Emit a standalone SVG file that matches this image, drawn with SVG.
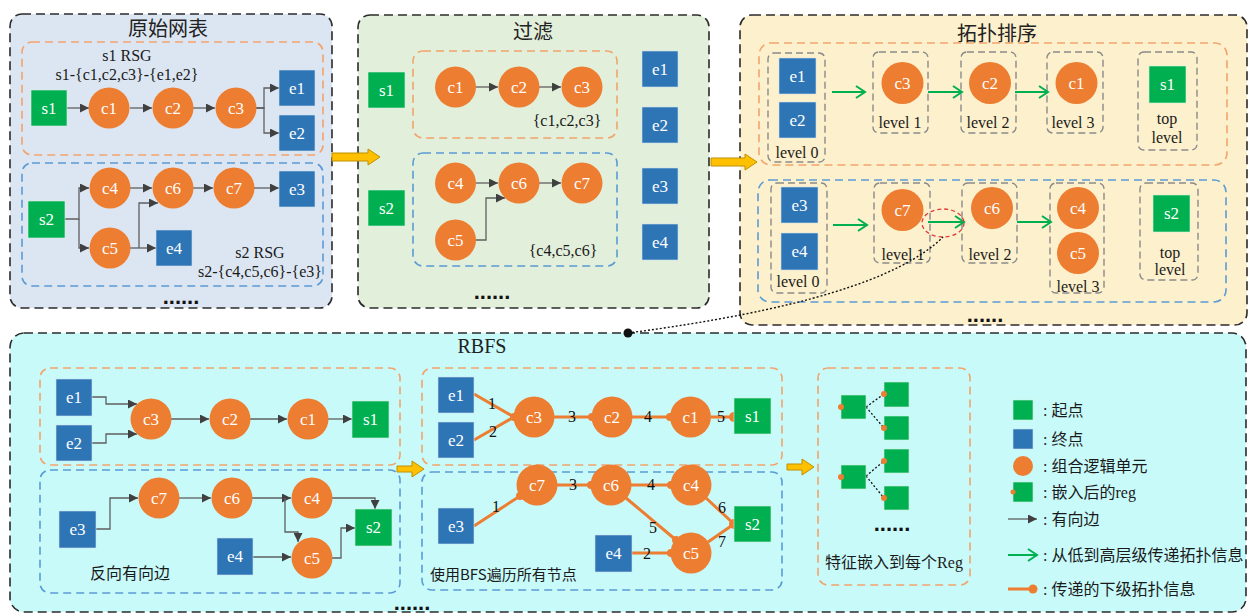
<svg xmlns="http://www.w3.org/2000/svg" width="1248" height="613" viewBox="0 0 1248 613">
  <defs>
    <style>
      .panel{stroke:#2b2b2b;stroke-width:1.6;stroke-dasharray:9 5}
      .grpO{fill:none;stroke:#f2a46c;stroke-width:1.6;stroke-dasharray:8 5}
      .grpB{fill:none;stroke:#5b9bd5;stroke-width:1.6;stroke-dasharray:8 5}
      .lvl{fill:none;stroke:#8a8a8a;stroke-width:1.4;stroke-dasharray:7 4}
      .s{fill:#00b050;stroke:#d8f0dc;stroke-width:0.6}
      .e{fill:#2e75b6;stroke:#d0e0f0;stroke-width:0.6}
      .c{fill:#ed7d31}
      .nl{font-family:"Liberation Serif",serif;font-size:17px;fill:#fff;text-anchor:middle;dominant-baseline:central}
      .t{font-family:"Liberation Serif",serif;font-size:16px;fill:#1a1a1a;text-anchor:middle;dominant-baseline:central}
      .title{font-family:"Noto Sans CJK SC",sans-serif;font-size:20px;fill:#222;text-anchor:middle;dominant-baseline:central}
      .cn{font-family:"Liberation Serif","Noto Sans CJK SC",serif;font-size:16px;fill:#1a1a1a;dominant-baseline:central}
      .dots{font-family:"Liberation Sans",sans-serif;font-weight:bold;font-size:22px;fill:#111;text-anchor:middle}
      .edge{fill:none;stroke:#5f5f5f;stroke-width:1.3;marker-end:url(#arr)}
      .up{fill:none;stroke:#00b050;stroke-width:2;marker-end:url(#garr)}
      .prop{fill:none;stroke:#ed7d31;stroke-width:3}
      .pdot{fill:#ed7d31}
      .bigarr{fill:#ffc000;stroke:#c09000;stroke-width:1}
      .num{font-family:"Liberation Serif",serif;font-size:16px;fill:#111;text-anchor:middle;dominant-baseline:central}
    </style>
    <marker id="arr" markerUnits="userSpaceOnUse" markerWidth="9" markerHeight="9" refX="9" refY="4.5" orient="auto">
      <path d="M0,0 L9,4.5 L0,9 Z" fill="#404040"/>
    </marker>
    <marker id="garr" markerUnits="userSpaceOnUse" markerWidth="12" markerHeight="14" refX="10" refY="7" orient="auto">
      <path d="M1,1 L10,7 L1,13" fill="none" stroke="#00b050" stroke-width="2"/>
    </marker>
  </defs>

  <!-- panels -->
  <g id="panels">
    <rect x="10" y="14" width="322" height="294" rx="12" fill="#dce6f2" class="panel"/>
    <rect x="358" y="15" width="351" height="293" rx="12" fill="#e2efda" class="panel"/>
    <rect x="740" y="15" width="507" height="310" rx="12" fill="#fdf0cc" class="panel"/>
    <rect x="10" y="333" width="1236" height="279" rx="14" fill="#c8fafa" class="panel"/>
    <text class="title" x="168" y="27">原始网表</text>
    <text class="title" x="533" y="30">过滤</text>
    <text class="title" x="997" y="32">拓扑排序</text>
    <text x="482" y="346" style="font-family:'Liberation Serif',serif;font-size:20px;fill:#222;text-anchor:middle;dominant-baseline:central">RBFS</text>
  </g>

  <!-- groups (RSG boxes, level boxes) -->
  <g id="groups">
    <rect class="grpO" x="22" y="42" width="301" height="113" rx="10"/>
    <rect class="grpB" x="22" y="163" width="301" height="123" rx="10"/>
    <rect class="grpO" x="413" y="51" width="204" height="87" rx="10"/>
    <rect class="grpB" x="413" y="153" width="204" height="113" rx="10"/>
    <rect class="grpO" x="759" y="43" width="468" height="122" rx="12"/>
    <rect class="grpB" x="758" y="180" width="468" height="122" rx="12"/>
    <rect class="lvl" x="768" y="53" width="57" height="109" rx="6"/>
    <rect class="lvl" x="873" y="52" width="55" height="81" rx="6"/>
    <rect class="lvl" x="961" y="52" width="55" height="81" rx="6"/>
    <rect class="lvl" x="1047" y="52" width="56" height="81" rx="6"/>
    <rect class="lvl" x="1138" y="52" width="59" height="98" rx="6"/>
    <rect class="lvl" x="771" y="183" width="56" height="110" rx="6"/>
    <rect class="lvl" x="874" y="183" width="56" height="80" rx="6"/>
    <rect class="lvl" x="962" y="183" width="55" height="80" rx="6"/>
    <rect class="lvl" x="1050" y="183" width="54" height="110" rx="6"/>
    <rect class="lvl" x="1140" y="183" width="58" height="97" rx="6"/>
    <rect class="grpO" x="40" y="368" width="360" height="97" rx="10"/>
    <rect class="grpB" x="40" y="470" width="360" height="123" rx="10"/>
    <rect class="grpO" x="422" y="368" width="360" height="97" rx="10"/>
    <rect class="grpB" x="422" y="472" width="360" height="118" rx="10"/>
    <rect class="grpO" x="818" y="368" width="152" height="217" rx="10"/>
  </g>

  <!-- annotations -->
  <g id="labels">
    <text class="t" x="127" y="55">s1 RSG</text>
    <text class="t" x="127" y="74">s1-{c1,c2,c3}-{e1,e2}</text>
    <text class="t" x="260" y="252">s2 RSG</text>
    <text class="t" x="260" y="271">s2-{c4,c5,c6}-{e3}</text>
    <text class="t" x="567" y="120">{c1,c2,c3}</text>
    <text class="t" x="563" y="250">{c4,c5,c6}</text>
    <text class="t" x="797" y="152">level 0</text>
    <text class="t" x="900" y="122">level 1</text>
    <text class="t" x="988" y="122">level 2</text>
    <text class="t" x="1073" y="122">level 3</text>
    <text class="t" x="1167" y="118">top</text>
    <text class="t" x="1167" y="137">level</text>
    <text class="t" x="798" y="281">level 0</text>
    <text class="t" x="903" y="254">level 1</text>
    <text class="t" x="990" y="254">level 2</text>
    <text class="t" x="1078" y="286">level 3</text>
    <text class="t" x="1170" y="252">top</text>
    <text class="t" x="1170" y="269">level</text>
    <text class="cn" x="130" y="573" text-anchor="middle">反向有向边</text>
    <text class="cn" x="430" y="573" style="font-family:'Noto Sans CJK SC',sans-serif;font-size:15px">使用BFS遍历所有节点</text>
    <text class="cn" x="894" y="562" text-anchor="middle">特征嵌入到每个Reg</text>
    <text class="dots" x="181" y="304">......</text>
    <text class="dots" x="492" y="299">......</text>
    <text class="dots" x="985" y="322">......</text>
    <text class="dots" x="412" y="610">......</text>
    <text class="dots" x="892" y="531">......</text>
  </g>

  <!-- stage arrows -->
  <g id="stage-arrows">
    <path class="bigarr" d="M332,153 H368 V149 L380,157 L368,165 V161 H332 Z"/>
    <path class="bigarr" d="M711,158 H745 V154 L757,162 L745,170 V166 H711 Z"/>
    <path class="bigarr" d="M397,466 H412 V461 L424,469 L412,477 V472 H397 Z"/>
    <path class="bigarr" d="M787,464 H802 V459 L814,467 L802,475 V470 H787 Z"/>
  </g>

  <!-- connectors -->
  <g id="connectors">
    <!-- netlist -->
    <path class="edge" d="M67,108 H89"/>
    <path class="edge" d="M130,108 H152"/>
    <path class="edge" d="M193,108 H215"/>
    <path class="edge" d="M256,108 H264 V88 H279"/>
    <path class="edge" d="M256,108 H264 V133 H279"/>
    <path class="edge" d="M65,219 H79 V188 H89"/>
    <path class="edge" d="M79,219 V248 H89"/>
    <path class="edge" d="M130,188 H152"/>
    <path class="edge" d="M130,248 H156"/>
    <path class="edge" d="M139,248 V203 H158"/>
    <path class="edge" d="M193,188 H213"/>
    <path class="edge" d="M254,188 H279"/>
    <!-- filtered -->
    <path class="edge" d="M476,87 H498"/>
    <path class="edge" d="M539,87 H561"/>
    <path class="edge" d="M476,183 H498"/>
    <path class="edge" d="M539,183 H561"/>
    <path class="edge" d="M476,240 H486 V198 H505"/>
    <!-- topological levels -->
    <path class="up" d="M832,92 H865"/>
    <path class="up" d="M928,92 H962"/>
    <path class="up" d="M1015,92 H1048"/>
    <path class="up" d="M833,225 H867"/>
    <path class="up" d="M928,222 H964"/>
    <path class="up" d="M1017,222 H1051"/>
    <ellipse cx="943" cy="223" rx="21" ry="14" fill="none" stroke="#e03a3a" stroke-width="1.3" stroke-dasharray="4 3"/>
    <path d="M628,333 Q880,300 943,237" fill="none" stroke="#111" stroke-width="1.4" stroke-dasharray="2 2"/>
    <circle cx="628" cy="333" r="4.5" fill="#111"/>
    <!-- reversed edges -->
    <path class="edge" d="M92,397 H106 V404 H137"/>
    <path class="edge" d="M92,443 H106 V434 H137"/>
    <path class="edge" d="M171,419 H209"/>
    <path class="edge" d="M250,419 H287"/>
    <path class="edge" d="M328,419 H352"/>
    <path class="edge" d="M96,529 H110 V498 H138"/>
    <path class="edge" d="M179,498 H211"/>
    <path class="edge" d="M252,498 H291"/>
    <path class="edge" d="M285,498 V532 H298 V542"/>
    <path class="edge" d="M332,498 H375 V509"/>
    <path class="edge" d="M332,558 H341 V528 H355"/>
    <path class="edge" d="M253,557 H291"/>
    <!-- BFS propagation -->
    <path class="prop" d="M474,394 L514,417 M474,440 L514,417 M554,417 H592 M632,417 H670 M711,417 H734"/>
    <circle class="pdot" cx="514" cy="417" r="4"/>
    <circle class="pdot" cx="592" cy="417" r="4"/>
    <circle class="pdot" cx="670" cy="417" r="4"/>
    <circle class="pdot" cx="734" cy="417" r="5"/>
    <path class="prop" d="M474,526 L520,496 M557,485 H591 M631,485 H671 M626,498 L676,540 M632,553 H671 M706,498 L734,524 M708,542 L734,524"/>
    <circle class="pdot" cx="520" cy="496" r="4"/>
    <circle class="pdot" cx="591" cy="485" r="4"/>
    <circle class="pdot" cx="671" cy="485" r="4"/>
    <circle class="pdot" cx="676" cy="540" r="4"/>
    <circle class="pdot" cx="671" cy="553" r="4"/>
    <circle class="pdot" cx="734" cy="524" r="5"/>
    <text class="num" x="492" y="403">1</text>
    <text class="num" x="493" y="431">2</text>
    <text class="num" x="572" y="416">3</text>
    <text class="num" x="648" y="416">4</text>
    <text class="num" x="721" y="416">5</text>
    <text class="num" x="496" y="506">1</text>
    <text class="num" x="573" y="484">3</text>
    <text class="num" x="651" y="484">4</text>
    <text class="num" x="653" y="527">5</text>
    <text class="num" x="647" y="553">2</text>
    <text class="num" x="722" y="507">6</text>
    <text class="num" x="722" y="541">7</text>
    <!-- embedding fan-out -->
    <path d="M866,407 L884,394 M866,407 L884,428 M866,476 L884,461 M866,476 L884,498" fill="none" stroke="#111" stroke-width="1.3" stroke-dasharray="2 2"/>
  </g>

  <!-- netlist nodes -->
  <g id="n1-s1"><rect class="s" x="31" y="90" width="36" height="36"/><text class="nl" x="49" y="108">s1</text></g>
  <g id="n1-c1"><circle class="c" cx="109" cy="108" r="20.5"/><text class="nl" x="109" y="108">c1</text></g>
  <g id="n1-c2"><circle class="c" cx="173" cy="108" r="20.5"/><text class="nl" x="173" y="108">c2</text></g>
  <g id="n1-c3"><circle class="c" cx="236" cy="108" r="20.5"/><text class="nl" x="236" y="108">c3</text></g>
  <g id="n1-e1"><rect class="e" x="279" y="70" width="36" height="36"/><text class="nl" x="297" y="88">e1</text></g>
  <g id="n1-e2"><rect class="e" x="279" y="115" width="36" height="36"/><text class="nl" x="297" y="133">e2</text></g>
  <g id="n1-s2"><rect class="s" x="28" y="201" width="37" height="37"/><text class="nl" x="46.5" y="219">s2</text></g>
  <g id="n1-c4"><circle class="c" cx="110" cy="188" r="20.5"/><text class="nl" x="110" y="188">c4</text></g>
  <g id="n1-c5"><circle class="c" cx="110" cy="248" r="20.5"/><text class="nl" x="110" y="248">c5</text></g>
  <g id="n1-c6"><circle class="c" cx="173" cy="188" r="20.5"/><text class="nl" x="173" y="188">c6</text></g>
  <g id="n1-c7"><circle class="c" cx="234" cy="188" r="20.5"/><text class="nl" x="234" y="188">c7</text></g>
  <g id="n1-e3"><rect class="e" x="279" y="171" width="36" height="36"/><text class="nl" x="297" y="189">e3</text></g>
  <g id="n1-e4"><rect class="e" x="156" y="230" width="36" height="36"/><text class="nl" x="174" y="248">e4</text></g>

  <!-- filtered nodes -->
  <g id="n2-s1"><rect class="s" x="368" y="72" width="37" height="36"/><text class="nl" x="386.5" y="90">s1</text></g>
  <g id="n2-s2"><rect class="s" x="368" y="190" width="37" height="36"/><text class="nl" x="386.5" y="208">s2</text></g>
  <g id="n2-c1"><circle class="c" cx="455.5" cy="87" r="20.5"/><text class="nl" x="455.5" y="87">c1</text></g>
  <g id="n2-c2"><circle class="c" cx="519" cy="87" r="20.5"/><text class="nl" x="519" y="87">c2</text></g>
  <g id="n2-c3"><circle class="c" cx="582" cy="87" r="20.5"/><text class="nl" x="582" y="87">c3</text></g>
  <g id="n2-c4"><circle class="c" cx="455.5" cy="183" r="20.5"/><text class="nl" x="455.5" y="183">c4</text></g>
  <g id="n2-c6"><circle class="c" cx="519" cy="183" r="20.5"/><text class="nl" x="519" y="183">c6</text></g>
  <g id="n2-c7"><circle class="c" cx="582" cy="183" r="20.5"/><text class="nl" x="582" y="183">c7</text></g>
  <g id="n2-c5"><circle class="c" cx="455.5" cy="240" r="20.5"/><text class="nl" x="455.5" y="240">c5</text></g>
  <g id="n2-e1"><rect class="e" x="642" y="51" width="36" height="36"/><text class="nl" x="660" y="69">e1</text></g>
  <g id="n2-e2"><rect class="e" x="642" y="107" width="36" height="36"/><text class="nl" x="660" y="125">e2</text></g>
  <g id="n2-e3"><rect class="e" x="642" y="168" width="36" height="36"/><text class="nl" x="660" y="186">e3</text></g>
  <g id="n2-e4"><rect class="e" x="642" y="224" width="36" height="36"/><text class="nl" x="660" y="242">e4</text></g>

  <!-- topological sort nodes -->
  <g id="n3-e1"><rect class="e" x="779" y="58" width="37" height="36"/><text class="nl" x="797.5" y="76">e1</text></g>
  <g id="n3-e2"><rect class="e" x="779" y="102" width="37" height="36"/><text class="nl" x="797.5" y="120">e2</text></g>
  <g id="n3-c3"><circle class="c" cx="902.5" cy="83" r="21"/><text class="nl" x="902.5" y="83">c3</text></g>
  <g id="n3-c2"><circle class="c" cx="990" cy="83" r="21"/><text class="nl" x="990" y="83">c2</text></g>
  <g id="n3-c1"><circle class="c" cx="1076.5" cy="83" r="21"/><text class="nl" x="1076.5" y="83">c1</text></g>
  <g id="n3-s1"><rect class="s" x="1149" y="66" width="37" height="37"/><text class="nl" x="1167.5" y="84.5">s1</text></g>
  <g id="n3-e3"><rect class="e" x="781" y="187" width="37" height="36"/><text class="nl" x="799.5" y="205">e3</text></g>
  <g id="n3-e4"><rect class="e" x="781" y="233" width="37" height="37"/><text class="nl" x="799.5" y="251.5">e4</text></g>
  <g id="n3-c7"><circle class="c" cx="902.5" cy="210" r="21"/><text class="nl" x="902.5" y="210">c7</text></g>
  <g id="n3-c6"><circle class="c" cx="992" cy="208" r="21"/><text class="nl" x="992" y="208">c6</text></g>
  <g id="n3-c4"><circle class="c" cx="1078" cy="208" r="21"/><text class="nl" x="1078" y="208">c4</text></g>
  <g id="n3-c5"><circle class="c" cx="1078" cy="253" r="21"/><text class="nl" x="1078" y="253">c5</text></g>
  <g id="n3-s2"><rect class="s" x="1153" y="195" width="37" height="37"/><text class="nl" x="1171.5" y="213.5">s2</text></g>

  <!-- reversed graph nodes -->
  <g id="n4-e1"><rect class="e" x="56" y="379" width="36" height="37"/><text class="nl" x="74" y="397">e1</text></g>
  <g id="n4-e2"><rect class="e" x="56" y="425" width="36" height="36"/><text class="nl" x="74" y="443">e2</text></g>
  <g id="n4-c3"><circle class="c" cx="151" cy="419" r="20.5"/><text class="nl" x="151" y="419">c3</text></g>
  <g id="n4-c2"><circle class="c" cx="230" cy="419" r="20.5"/><text class="nl" x="230" y="419">c2</text></g>
  <g id="n4-c1"><circle class="c" cx="308" cy="419" r="20.5"/><text class="nl" x="308" y="419">c1</text></g>
  <g id="n4-s1"><rect class="s" x="352" y="401" width="37" height="37"/><text class="nl" x="370.5" y="419">s1</text></g>
  <g id="n4-e3"><rect class="e" x="59" y="511" width="37" height="37"/><text class="nl" x="77.5" y="529.5">e3</text></g>
  <g id="n4-c7"><circle class="c" cx="159" cy="498" r="20.5"/><text class="nl" x="159" y="498">c7</text></g>
  <g id="n4-c6"><circle class="c" cx="232" cy="498" r="20.5"/><text class="nl" x="232" y="498">c6</text></g>
  <g id="n4-c4"><circle class="c" cx="312" cy="498" r="20.5"/><text class="nl" x="312" y="498">c4</text></g>
  <g id="n4-c5"><circle class="c" cx="312" cy="558" r="20.5"/><text class="nl" x="312" y="558">c5</text></g>
  <g id="n4-e4"><rect class="e" x="217" y="538" width="36" height="37"/><text class="nl" x="235" y="556.5">e4</text></g>
  <g id="n4-s2"><rect class="s" x="355" y="509" width="37" height="37"/><text class="nl" x="373.5" y="527.5">s2</text></g>

  <!-- BFS nodes -->
  <g id="n5-e1"><rect class="e" x="438" y="377" width="36" height="36"/><text class="nl" x="456" y="395">e1</text></g>
  <g id="n5-e2"><rect class="e" x="438" y="422" width="36" height="36"/><text class="nl" x="456" y="440">e2</text></g>
  <g id="n5-c3"><circle class="c" cx="534" cy="417" r="20.5"/><text class="nl" x="534" y="417">c3</text></g>
  <g id="n5-c2"><circle class="c" cx="612" cy="417" r="20.5"/><text class="nl" x="612" y="417">c2</text></g>
  <g id="n5-c1"><circle class="c" cx="690.5" cy="417" r="20.5"/><text class="nl" x="690.5" y="417">c1</text></g>
  <g id="n5-s1"><rect class="s" x="734" y="398" width="37" height="36"/><text class="nl" x="752.5" y="416">s1</text></g>
  <g id="n5-e3"><rect class="e" x="438" y="508" width="36" height="36"/><text class="nl" x="456" y="526">e3</text></g>
  <g id="n5-c7"><circle class="c" cx="537" cy="485" r="20.5"/><text class="nl" x="537" y="485">c7</text></g>
  <g id="n5-c6"><circle class="c" cx="611" cy="485" r="20.5"/><text class="nl" x="611" y="485">c6</text></g>
  <g id="n5-c4"><circle class="c" cx="691" cy="485" r="20.5"/><text class="nl" x="691" y="485">c4</text></g>
  <g id="n5-c5"><circle class="c" cx="691" cy="553" r="20.5"/><text class="nl" x="691" y="553">c5</text></g>
  <g id="n5-e4"><rect class="e" x="595" y="535" width="37" height="37"/><text class="nl" x="613.5" y="553.5">e4</text></g>
  <g id="n5-s2"><rect class="s" x="734" y="506" width="37" height="36"/><text class="nl" x="752.5" y="524">s2</text></g>

  <!-- embedded regs -->
  <g id="reg-a"><rect class="s" x="841" y="395" width="25" height="24"/><circle class="pdot" cx="841" cy="407" r="3"/></g>
  <g id="reg-a1"><rect class="s" x="884" y="382" width="25" height="25"/><circle class="pdot" cx="884" cy="394" r="3"/></g>
  <g id="reg-a2"><rect class="s" x="884" y="416" width="25" height="24"/><circle class="pdot" cx="884" cy="428" r="3"/></g>
  <g id="reg-b"><rect class="s" x="841" y="465" width="25" height="24"/><circle class="pdot" cx="841" cy="477" r="3"/></g>
  <g id="reg-b1"><rect class="s" x="884" y="449" width="25" height="24"/><circle class="pdot" cx="884" cy="461" r="3"/></g>
  <g id="reg-b2"><rect class="s" x="884" y="486" width="25" height="24"/><circle class="pdot" cx="884" cy="498" r="3"/></g>

  <!-- legend -->
  <g id="legend">
    <rect class="s" x="1013" y="400" width="20" height="20"/>
    <text class="cn" x="1043" y="410">: 起点</text>
    <rect class="e" x="1013" y="429" width="20" height="20"/>
    <text class="cn" x="1043" y="439">: 终点</text>
    <circle class="c" cx="1023" cy="466" r="10"/>
    <text class="cn" x="1043" y="466">: 组合逻辑单元</text>
    <rect class="s" x="1013" y="482" width="20" height="20"/>
    <circle class="pdot" cx="1013" cy="492" r="2.5"/>
    <text class="cn" x="1043" y="492">: 嵌入后的reg</text>
    <path class="edge" d="M1008,519 H1037"/>
    <text class="cn" x="1043" y="519">: 有向边</text>
    <path class="up" d="M1008,555 H1037"/>
    <text class="cn" x="1043" y="555">: 从低到高层级传递拓扑信息</text>
    <path class="prop" d="M1008,589 H1033"/>
    <circle class="pdot" cx="1033" cy="589" r="4.5"/>
    <text class="cn" x="1043" y="589">: 传递的下级拓扑信息</text>
  </g>
</svg>
